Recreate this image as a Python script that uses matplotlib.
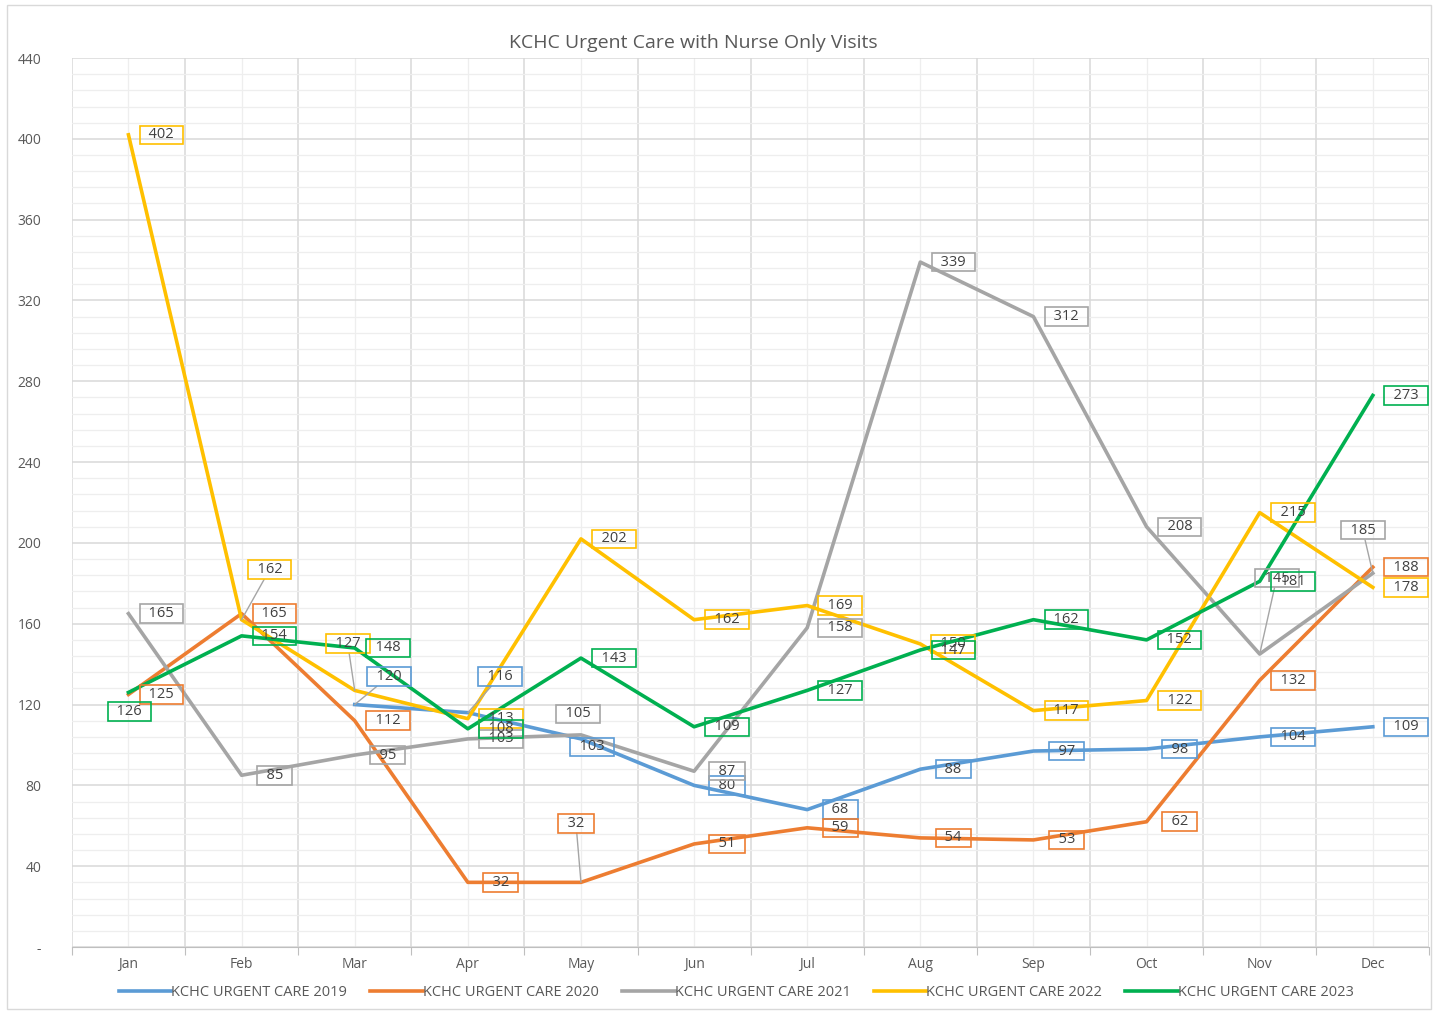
import numpy as np
import matplotlib.pyplot as plt
from matplotlib.patches import Rectangle

# Data
months = ['Jan', 'Feb', 'Mar', 'Apr', 'May', 'Jun', 'Jul', 'Aug', 'Sep', 'Oct', 'Nov', 'Dec']
uc_2019 = [np.nan, np.nan, 120, 116, 103, 80, 68, 88, 97, 98, 104, 109]
uc_2020 = [125, 165, 112, 32, 32, 51, 59, 54, 53, 62, 132, 188]
uc_2021 = [165, 85, 95, 103, 105, 87, 158, 339, 312, 208, 145, 185]
uc_2022 = [402, 162, 127, 113, 202, 162, 169, 150, 117, 122, 215, 178]
uc_2023 = [126, 154, 148, 108, 143, 109, 127, 147, 162, 152, 181, 273]

series = [
    ('KCHC URGENT CARE 2019', uc_2019, '#5B9BD5'),
    ('KCHC URGENT CARE 2020', uc_2020, '#ED7D31'),
    ('KCHC URGENT CARE 2021', uc_2021, '#A5A5A5'),
    ('KCHC URGENT CARE 2022', uc_2022, '#FFC000'),
    ('KCHC URGENT CARE 2023', uc_2023, '#00B050'),
]

# label offsets in pixels (dx, dy up) where the label is not just to the right
DEFAULT_OFF = (33, 0)
label_offsets = {
    ('2019', 2): (34, 28), ('2019', 3): (32, 36), ('2019', 4): (11, -8),
    ('2020', 4): (-5, 59),
    ('2021', 4): (-3, 21), ('2021', 10): (17, 76), ('2021', 11): (-10, 43),
    ('2022', 1): (28, 50), ('2022', 2): (-7, 47),
    ('2023', 0): (1, -19),
}
leaders = {('2019', 2), ('2019', 3), ('2020', 4), ('2021', 10), ('2021', 11),
           ('2022', 1), ('2022', 2)}

plt.rcParams['font.family'] = ['Open Sans', 'DejaVu Sans']

fig = plt.figure(figsize=(14.38, 10.11), dpi=100)
ax = fig.add_axes([0.05, 0.0633, 0.944, 0.8793])
fig.patches.append(Rectangle((0.005, 0.002), 0.99, 0.993, transform=fig.transFigure,
                             fill=False, edgecolor='#D9D9D9', lw=1))

x = np.arange(len(months))
for name, vals, color in series:
    ax.plot(x, vals, color=color, lw=2.6, label=name, zorder=3, solid_joinstyle='round')

# data labels: outlined boxes, no fill (overlaps show through like the original)
for name, vals, color in series:
    yr = name[-4:]
    for i, v in enumerate(vals):
        if np.isnan(v):
            continue
        off = label_offsets.get((yr, i), DEFAULT_OFF)
        arrow = None
        if (yr, i) in leaders:
            arrow = dict(arrowstyle='-', color='#A5A5A5', lw=1, shrinkA=0, shrinkB=0)
        ax.annotate('  %d  ' % v, (i, v), xytext=off, textcoords='offset pixels',
                    ha='center', va='center', fontsize=10.5, color='#404040',
                    bbox=dict(boxstyle='square,pad=0.12', fc='none', ec=color, lw=1.2),
                    arrowprops=arrow, zorder=4)

ax.set_xlim(-0.5, 11.5)
ax.set_ylim(0, 440)

ax.set_xticks(np.arange(-0.5, 12, 1))
ax.set_xticklabels([])
ax.set_xticks(x, minor=True)
ax.set_xticklabels(months, minor=True)
ax.tick_params(axis='x', which='major', length=6, color='#BFBFBF', direction='out')
ax.tick_params(axis='x', which='minor', length=0, labelsize=10, labelcolor='#595959', pad=7)

yt = np.arange(0, 441, 40)
ax.set_yticks(yt)
ax.set_yticklabels(['-'] + [str(t) for t in yt[1:]])
ax.set_yticks(np.arange(0, 441, 8), minor=True)
ax.tick_params(axis='y', which='both', length=0, labelsize=10, labelcolor='#595959', pad=22)

ax.grid(True, which='major', color='#D9D9D9', lw=1.1)
ax.grid(True, which='minor', color='#EEEEEE', lw=0.9)
ax.set_axisbelow(True)

for s in ['left', 'right', 'top']:
    ax.spines[s].set_visible(False)
ax.spines['bottom'].set_color('#BFBFBF')

fig.text(0.482, 0.957, 'KCHC Urgent Care with Nurse Only Visits', ha='center', va='center',
         fontsize=14, color='#595959')

fig.legend(loc='center', bbox_to_anchor=(0.512, 0.018), ncol=5, frameon=False,
           fontsize=10.5, handlelength=3.6, handletextpad=0, columnspacing=1.6,
           labelcolor='#595959')

fig.savefig('out.png', dpi=100)
